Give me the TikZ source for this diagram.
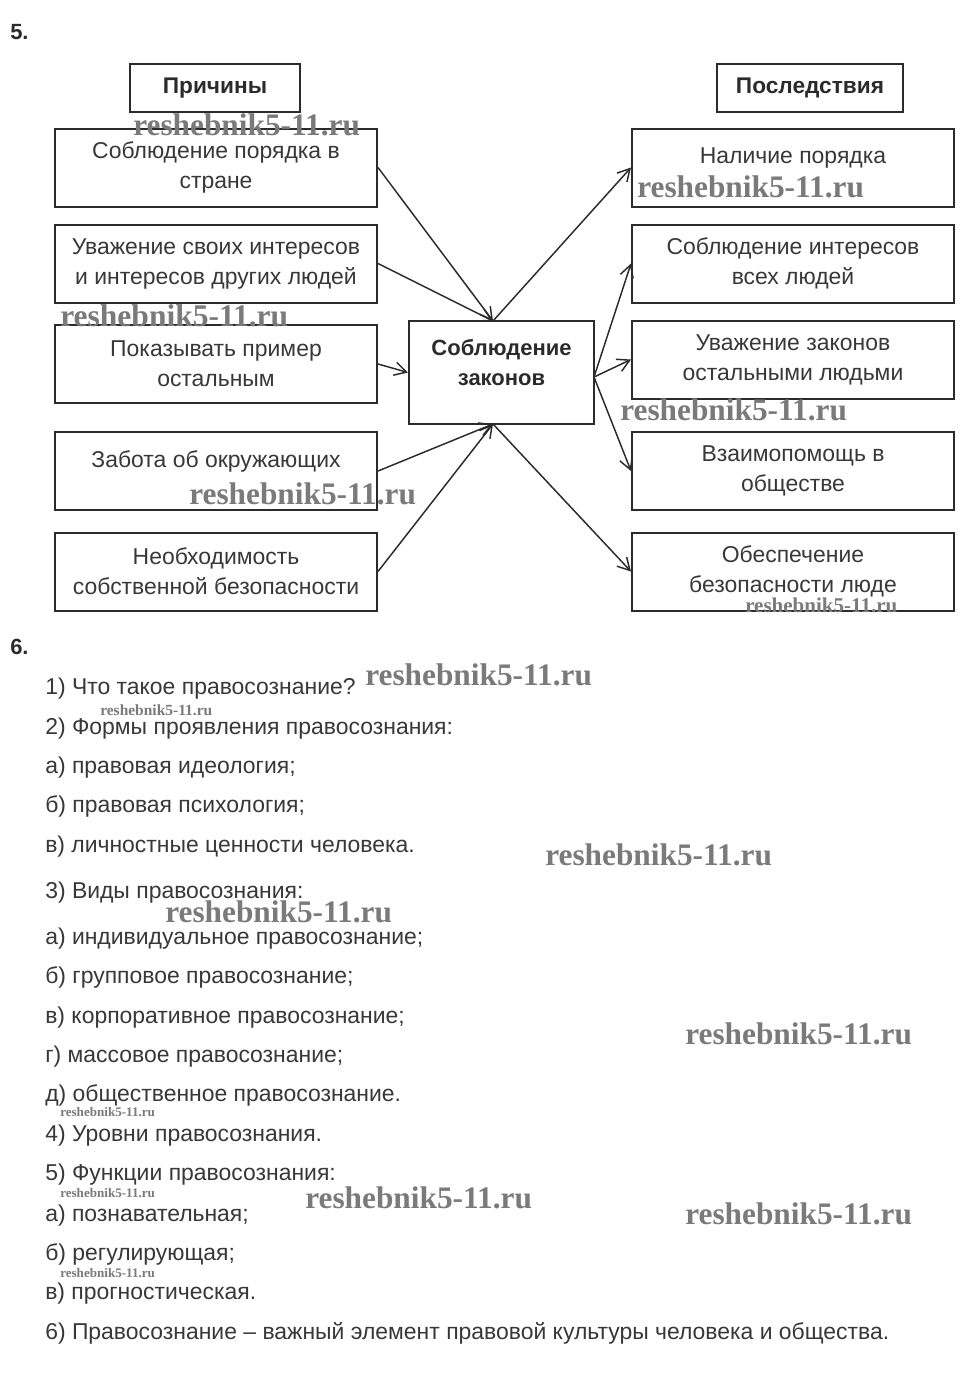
\documentclass[tikz,border=0pt]{standalone}
\usepackage{fontspec}
\usepackage{graphicx}
\setmainfont{Liberation Sans}
\newfontfamily\wmfont{Liberation Serif}
\usetikzlibrary{arrows.meta}

\definecolor{txt}{HTML}{383838}
\definecolor{edge}{HTML}{2B2B2B}
\definecolor{wmgray}{HTML}{7A7A7A}

\tikzstyle{every node}=[font=\fontsize{17.2}{22.5}\selectfont, text=txt]
\tikzstyle{box}=[draw=edge, line width=1.5pt, minimum width=241.5pt, minimum height=58.5pt, inner sep=0pt, align=center]
\tikzstyle{head}=[draw=edge, line width=1.5pt, minimum height=36pt, inner sep=0pt, font=\fontsize{17}{22.5}\selectfont\bfseries, text=edge]
\tikzstyle{item}=[anchor=base west, inner sep=0pt]
\tikzstyle{wm}=[anchor=west, inner sep=0pt, text=wmgray, font=\wmfont\bfseries]
\tikzstyle{arr}=[->, draw=edge, line width=1.1pt]

\newcommand{\wmtext}[1]{\resizebox{#1}{!}{reshebnik5-11.ru}}

\begin{document}
\begin{tikzpicture}[x=0.75pt, y=-0.75pt, >={Straight Barb[length=9pt,width=10pt]}]
            % фон и размеры
            \fill[white] (0,0) rectangle (966,1389);
            \useasboundingbox (0,0) rectangle (966,1389);

            % номера заданий
            \node[item, font=\fontsize{16.5}{18}\selectfont\bfseries, text=edge] (n5) at (10,39) {5.};
            \node[item, font=\fontsize{16.5}{18}\selectfont\bfseries, text=edge] (n6) at (10,654) {6.};

            % заголовки
            \node[head, minimum width=127.5pt] (prich) at (215,88) {Причины};
            \node[head, minimum width=139.5pt] (posl) at (810,88) {Последствия};

            % причины
            \node[box] (l1) at (216,167.5) {Соблюдение порядка в\\стране};
            \node[box] (l2) at (216,263.5) {Уважение своих интересов\\и интересов других людей};
            \node[box] (l3) at (216,364) {Показывать пример\\остальным};
            \node[box] (l4) at (216,471) {};
            \node (l4t) at ([yshift=7.5pt]l4.center) {Забота об окружающих};
            \node[box] (l5) at (216,571.5) {Необходимость\\собственной безопасности};

            % центр
            \node[box, minimum width=138.75pt, minimum height=77.25pt] (c) at (501.5,372.5) {};
            \node[align=center, font=\fontsize{16.5}{22.5}\selectfont\bfseries, text=edge] (ct) at ([yshift=7.5pt]c.center) {Соблюдение\\законов};
            \coordinate (ctop) at (493,321);
            \coordinate (cbot) at (493,424);
            \coordinate (cright) at (594,377);

            % последствия
            \node[box] (r1) at (793,167.5) {};
            \node (r1t) at ([yshift=7.5pt]r1.center) {Наличие порядка};
            \node[box] (r2) at (793,263.5) {Соблюдение интересов\\всех людей};
            \node[box] (r3) at (793,359.5) {Уважение законов\\остальными людьми};
            \node[box] (r4) at (793,471) {Взаимопомощь в\\обществе};
            \node[box] (r5) at (793,571.5) {Обеспечение\\безопасности люде};

            % стрелки к центру
            \draw[arr] (l1.east) -- (ctop);
            \draw[arr] (l2.east) -- (ctop);
            \draw[arr] (l3.east) -- (c.west);
            \draw[arr] (l4.east) -- (cbot);
            \draw[arr] (l5.east) -- (cbot);

            % стрелки от центра
            \draw[arr] (ctop) -- (r1.west);
            \draw[arr] (cright) -- (r2.west);
            \draw[arr] (cright) -- (r3.west);
            \draw[arr] (cright) -- (r4.west);
            \draw[arr] (cbot) -- (r5.west);

            % задание 6
            \node[item] (q1) at (45,694) {1) Что такое правосознание?};
            \node[item] (q2) at (45,734) {2) Формы проявления правосознания:};
            \node[item] (q2a) at (45,773) {а) правовая идеология;};
            \node[item] (q2b) at (45,812) {б) правовая психология;};
            \node[item] (q2c) at (45,852) {в) личностные ценности человека.};
            \node[item] (q3) at (45,898) {3) Виды правосознания:};
            \node[item] (q3a) at (45,944) {а) индивидуальное правосознание;};
            \node[item] (q3b) at (45,983) {б) групповое правосознание;};
            \node[item] (q3c) at (45,1023) {в) корпоративное правосознание;};
            \node[item] (q3d) at (45,1062) {г) массовое правосознание;};
            \node[item] (q3e) at (45,1101) {д) общественное правосознание.};
            \node[item] (q4) at (45,1141) {4) Уровни правосознания.};
            \node[item] (q5) at (45,1180) {5) Функции правосознания:};
            \node[item] (q5a) at (45,1221) {а) познавательная;};
            \node[item] (q5b) at (45,1260) {б) регулирующая;};
            \node[item] (q5c) at (45,1299) {в) прогностическая.};
            \node[item] (q6) at (45,1339) {6) Правосознание – важный элемент правовой культуры человека и общества.};

            % водяные знаки
            \node[wm] (wm1) at (133,125) {\wmtext{170pt}};
            \node[wm] (wm2) at (60,316) {\wmtext{171pt}};
            \node[wm] (wm3) at (637,187) {\wmtext{170pt}};
            \node[wm] (wm4) at (189,494) {\wmtext{170pt}};
            \node[wm] (wm5) at (620,410) {\wmtext{170pt}};
            \node[wm] (wm6) at (745,605) {\wmtext{114pt}};
            \node[wm] (wm7) at (365,675) {\wmtext{170pt}};
            \node[wm] (wm8) at (100,710) {\wmtext{84pt}};
            \node[wm] (wm9) at (545,855) {\wmtext{170pt}};
            \node[wm] (wm10) at (165,912) {\wmtext{170pt}};
            \node[wm] (wm11) at (685,1034) {\wmtext{170pt}};
            \node[wm] (wm12) at (60,1112) {\wmtext{71pt}};
            \node[wm] (wm13) at (305,1198) {\wmtext{170pt}};
            \node[wm] (wm14) at (60,1193) {\wmtext{71pt}};
            \node[wm] (wm15) at (685,1214) {\wmtext{170pt}};
            \node[wm] (wm16) at (60,1273) {\wmtext{71pt}};
        \end{tikzpicture}
\end{document}
